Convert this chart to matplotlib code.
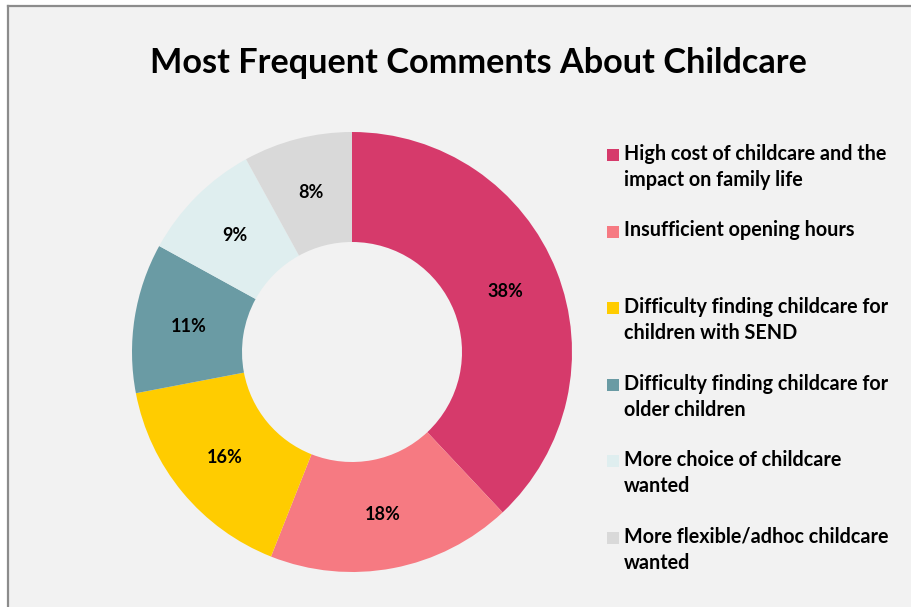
import matplotlib
matplotlib.use("Agg")
import matplotlib.pyplot as plt
from matplotlib.patches import Rectangle
from matplotlib.lines import Line2D

TITLE = "Most Frequent Comments About Childcare"
CATEGORIES = [
    "High cost of childcare and the\nimpact on family life",
    "Insufficient opening hours",
    "Difficulty finding childcare for\nchildren with SEND",
    "Difficulty finding childcare for\nolder children",
    "More choice of childcare\nwanted",
    "More flexible/adhoc childcare\nwanted",
]
SHARES = [38, 18, 16, 11, 9, 8]
COLORS = ["#D63A6B", "#F67A82", "#FFCC00", "#6A9BA4", "#DFEEEF", "#D9D9D9"]
BG = "#F2F2F2"

W, H = 912, 607
fig = plt.figure(figsize=(W / 100, H / 100), dpi=100)
fig.patch.set_facecolor("white")

# chart area panel with a grey frame on the left and top
fig.patches.append(Rectangle((8 / W, 0), 1, 1 - 6 / H, transform=fig.transFigure,
                             facecolor=BG, edgecolor="none", zorder=-5))
fig.lines.append(Line2D([8 / W, 8 / W], [0, 1 - 6 / H], transform=fig.transFigure,
                        color="#8C8C8C", lw=1.6))
fig.lines.append(Line2D([8 / W, 1], [1 - 6 / H, 1 - 6 / H], transform=fig.transFigure,
                        color="#8C8C8C", lw=1.6))

font = "Lato"
fig.text(478 / W, 1 - 63 / H, TITLE, ha="center", va="center",
         fontsize=24.7, fontweight="bold", family=font, color="black")

cx, cy, R = 352, 352, 220
ax = fig.add_axes([(cx - R) / W, 1 - (cy + R) / H, 2 * R / W, 2 * R / H])
ax.set_facecolor("none")
wedges, texts = ax.pie(SHARES, colors=COLORS, startangle=90, counterclock=False,
                       wedgeprops=dict(width=0.5, edgecolor="none"),
                       labels=[f"{s}%" for s in SHARES], labeldistance=0.75,
                       textprops=dict(fontsize=13, fontweight="bold", family=font,
                                      ha="center", va="center"))
ax.set_xlim(-1, 1)
ax.set_ylim(-1, 1)
ax.set_aspect("equal")

# legend drawn as individual squares and text blocks
y0, step = 155, 76.5
for i, (lab, col) in enumerate(zip(CATEGORIES, COLORS)):
    y = y0 + i * step
    fig.patches.append(Rectangle((607 / W, 1 - (y + 6) / H), 12 / W, 12 / H,
                                 transform=fig.transFigure, facecolor=col,
                                 edgecolor="none"))
    fig.text(624 / W, 1 - (y - 11) / H, lab, ha="left", va="top",
             fontsize=14.2, fontweight="bold", family=font, color="black",
             linespacing=1.38)

fig.savefig("out.png", dpi=100, facecolor=fig.get_facecolor())
